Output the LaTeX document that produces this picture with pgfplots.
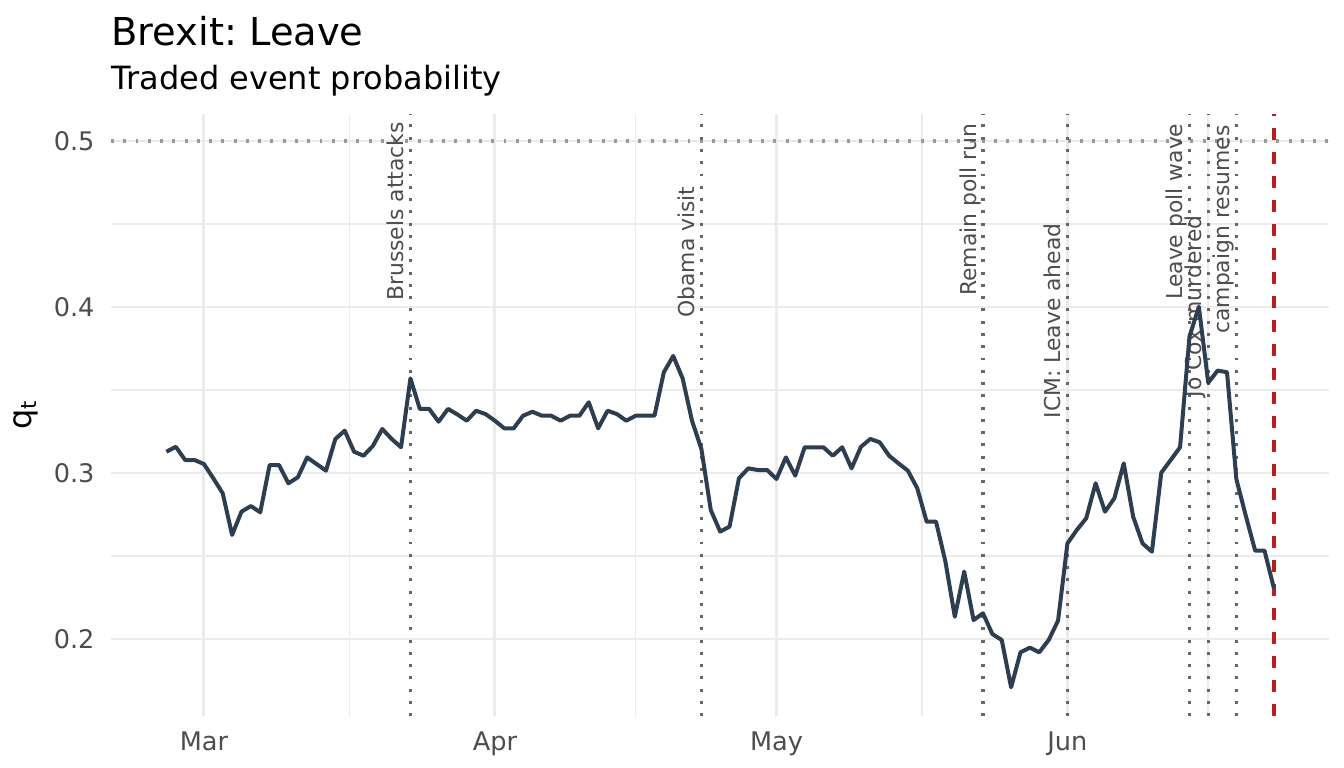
\documentclass[border=0pt]{standalone}
\usepackage{fontspec}
\setmainfont{DejaVu Sans}
\usepackage{pgfplots}
\usepackage{pgfplotstable}
\pgfplotsset{compat=1.18}
\usetikzlibrary{calc}
\definecolor{linecol}{HTML}{2C3E50}
\definecolor{gridcol}{HTML}{EBEBEB}
\definecolor{evcol}{HTML}{666666}
\definecolor{hcol}{HTML}{9A9A9A}
\definecolor{redcol}{HTML}{B22222}
\definecolor{tickcol}{HTML}{4D4D4D}
\frenchspacing

\pgfplotstableread{
d q
-4 0.3128
-3 0.3158
-2 0.3078
-1 0.3078
0 0.3054
1 0.2968
2 0.2878
3 0.2627
4 0.2767
5 0.2801
6 0.2763
7 0.3048
8 0.3048
9 0.2938
10 0.2974
11 0.3094
12 0.3054
13 0.3014
14 0.3205
15 0.3255
16 0.3128
17 0.3104
18 0.3163
19 0.3265
20 0.3205
21 0.3155
22 0.3570
23 0.3386
24 0.3386
25 0.3309
26 0.3386
27 0.3353
28 0.3315
29 0.3375
30 0.3355
31 0.3315
32 0.3269
33 0.3269
34 0.3345
35 0.3369
36 0.3345
37 0.3345
38 0.3315
39 0.3345
40 0.3345
41 0.3426
42 0.3269
43 0.3375
44 0.3355
45 0.3315
46 0.3345
47 0.3345
48 0.3345
49 0.3607
50 0.3705
51 0.3570
52 0.3315
53 0.3145
54 0.2777
55 0.2647
56 0.2677
57 0.2968
58 0.3028
59 0.3018
60 0.3018
61 0.2964
62 0.3094
63 0.2984
64 0.3155
65 0.3155
66 0.3155
67 0.3104
68 0.3155
69 0.3028
70 0.3158
71 0.3205
72 0.3185
73 0.3104
74 0.3058
75 0.3014
76 0.2908
77 0.2707
78 0.2707
79 0.2466
80 0.2134
81 0.2406
82 0.2114
83 0.2155
84 0.2030
85 0.1994
86 0.1709
87 0.1920
88 0.1948
89 0.1920
90 0.1994
91 0.2110
92 0.2576
93 0.2657
94 0.2727
95 0.2938
96 0.2767
97 0.2848
98 0.3058
99 0.2737
100 0.2576
101 0.2526
102 0.3002
103 0.3078
104 0.3155
105 0.3821
106 0.4002
107 0.3544
108 0.3617
109 0.3607
110 0.2962
111 0.2743
112 0.2532
113 0.2532
114 0.2305
}\datatable

\begin{document}
\begin{tikzpicture}
\begin{axis}[
  at={(41.63pt,19.42pt)}, anchor=south west,
  scale only axis, width=456.86pt, height=225.98pt,
  xmin=-9.9, xmax=119.9, ymin=0.1535, ymax=0.5165,
  axis line style={draw=none},
  major tick length=0pt, minor tick length=0pt,
  xtick={0,31,61,92}, xticklabels={Mar,Apr,May,Jun},
  minor xtick={15.5,46,76.5,107},
  ytick={0.2,0.3,0.4,0.5}, yticklabels={0.2,0.3,0.4,0.5},
  minor ytick={0.25,0.35,0.45},
  grid=both,
  major grid style={gridcol, line width=1.1pt},
  minor grid style={gridcol, line width=0.6pt},
  tick label style={font=\fontsize{9.6}{11}\selectfont, text=tickcol, inner sep=0pt},
  xticklabel style={anchor=north, yshift=-5.5pt},
  yticklabel style={anchor=east, xshift=-6pt},
  clip=false,
]
\addplot[hcol, line width=1.15pt, dash pattern=on 1.1pt off 3.5pt] coordinates {(-9.9,0.5) (119.9,0.5)};
\addplot[evcol, line width=1.15pt, dash pattern=on 1.1pt off 3.5pt] coordinates {(22,0.1535) (22,0.5165)};
\addplot[evcol, line width=1.15pt, dash pattern=on 1.1pt off 3.5pt] coordinates {(53,0.1535) (53,0.5165)};
\addplot[evcol, line width=1.15pt, dash pattern=on 1.1pt off 3.5pt] coordinates {(83,0.1535) (83,0.5165)};
\addplot[evcol, line width=1.15pt, dash pattern=on 1.1pt off 3.5pt] coordinates {(92,0.1535) (92,0.5165)};
\addplot[evcol, line width=1.15pt, dash pattern=on 1.1pt off 3.5pt] coordinates {(105,0.1535) (105,0.5165)};
\addplot[evcol, line width=1.15pt, dash pattern=on 1.1pt off 3.5pt] coordinates {(107,0.1535) (107,0.5165)};
\addplot[evcol, line width=1.15pt, dash pattern=on 1.1pt off 3.5pt] coordinates {(110,0.1535) (110,0.5165)};
\addplot[redcol, line width=1.2pt, dash pattern=on 4.5pt off 4.5pt] coordinates {(114,0.1535) (114,0.5165)};

\tikzset{evlab/.style={rotate=90, anchor=base east, inner sep=0pt, font=\fontsize{8.2}{10}\selectfont, text=tickcol}}
\node[evlab] at ($(axis cs:22,0.5116)+(-2.5pt,0pt)$) {Brussels attacks};
\node[evlab] at ($(axis cs:53,0.4729)+(-2.5pt,0pt)$) {Obama visit};
\node[evlab] at ($(axis cs:83,0.5108)+(-2.5pt,0pt)$) {Remain poll run};
\node[evlab] at ($(axis cs:92,0.4506)+(-2.5pt,0pt)$) {ICM: Leave ahead};
\node[evlab] at ($(axis cs:105,0.5108)+(-2.5pt,0pt)$) {Leave poll wave};
\node[evlab] at ($(axis cs:107,0.4554)+(-2.5pt,0pt)$) {Jo Cox murdered};
\node[evlab] at ($(axis cs:110,0.5096)+(-2.5pt,0pt)$) {campaign resumes};

\addplot[linecol, line width=1.5pt, line join=round] table[x=d,y=q] {\datatable};
\end{axis}
\node[anchor=base west, inner sep=0pt, font=\fontsize{14.4}{17}\selectfont] at (41.6pt,271.1pt) {Brexit: Leave};
\node[anchor=base west, inner sep=0pt, font=\fontsize{12}{14}\selectfont] at (41.6pt,254.25pt) {Traded event probability};
\node[rotate=90, inner sep=0pt, font=\fontsize{12}{14}\selectfont] at (9.8pt,132.4pt) {q\textsubscript{t}};
\pgfresetboundingbox
\path[use as bounding box] (0pt,0pt) rectangle (504pt,288pt);
\end{tikzpicture}
\end{document}
